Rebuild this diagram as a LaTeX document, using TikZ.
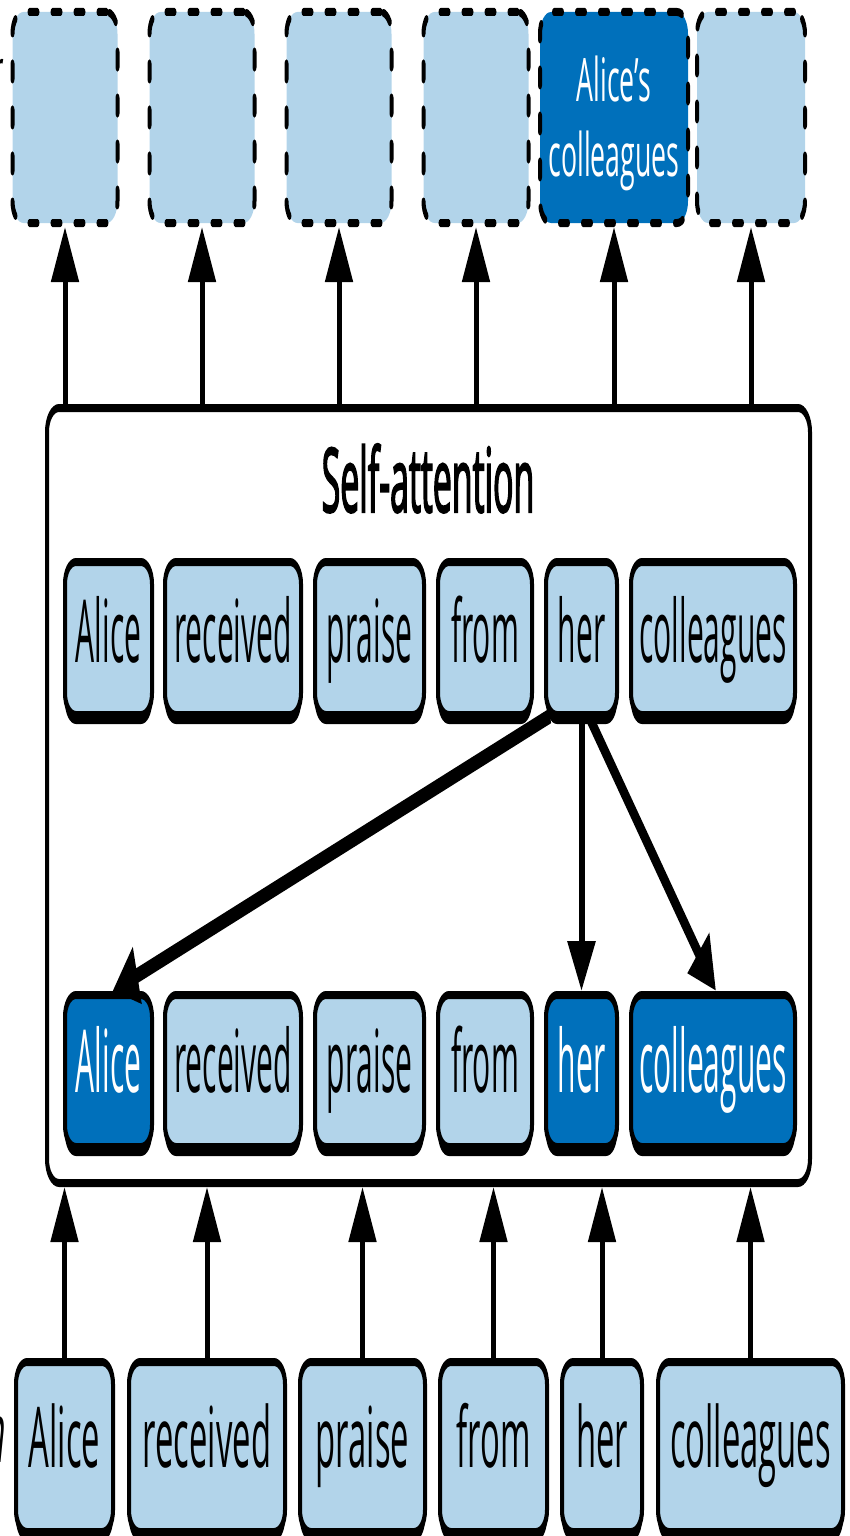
\documentclass[tikz,border=0pt]{standalone}
\usepackage{fontspec}
\setmainfont{Open Sans}
% condensed faces for the three token rows, the heading and the side labels
\newfontfamily\inputfont[FakeStretch=0.78]{Open Sans}
\newfontfamily\attnfont[FakeStretch=0.69]{Open Sans}
\newfontfamily\outfont[FakeStretch=0.89]{Open Sans}
\newfontfamily\headfont[FakeStretch=0.76,FakeBold=2.5]{Open Sans}
\newfontfamily\sidefont[FakeStretch=0.78,FakeSlant=0.2]{Open Sans}
\usetikzlibrary{arrows.meta,calc,shadows}

\definecolor{tokenblue}{RGB}{178,212,234}
\definecolor{focusblue}{RGB}{0,112,187}

\begin{document}
\begin{tikzpicture}
\useasboundingbox (0pt,0pt) rectangle (849pt,-1536pt);
% everything is laid out on a canvas squeezed to half its width
\begin{scope}[transform canvas={xscale=0.5}, x=2pt, y=-1pt,
  tokbox/.style={draw=black, line width=8pt, rounded corners=22pt, inner sep=0pt,
    fill=tokenblue,
    drop shadow={shadow xshift=0pt, shadow yshift=-9pt, opacity=1, fill=black}},
  focus/.style={fill=focusblue, text=white},
  inrow/.style={tokbox, minimum height=170pt, text height=62pt, text depth=22pt,
    font=\inputfont\fontsize{84pt}{90pt}\selectfont},
  attrow/.style={tokbox, minimum height=153pt, text height=65pt, text depth=18pt,
    font=\attnfont\fontsize{87pt}{90pt}\selectfont},
  outbox/.style={fill=tokenblue, draw=black, line width=8pt,
    dash pattern=on 16pt off 30pt, line cap=round, rounded corners=22pt,
    inner sep=0pt, minimum height=211pt},
  layerbox/.style={draw=black, line width=8pt, rounded corners=24pt, fill=white,
    inner sep=0pt},
  headtext/.style={inner sep=0pt, font=\headfont\fontsize{89pt}{90pt}\selectfont},
  sidetext/.style={inner sep=0pt},
  conn/.style={line width=10pt, -{Triangle[length=55pt,width=54pt]}},
  attn/.style={-{Triangle[length=52pt,width=56pt]}}
]

% self-attention layer
\node[layerbox, minimum width=1526pt, minimum height=775pt] (sa) at (428.5,795.5) {};
\node[headtext, anchor=base] (title) at (428,512) {Self-attention};

% output row (dashed)
\node[outbox, minimum width=210pt] (t1) at (65,117.5) {};
\node[outbox, minimum width=210pt] (t2) at (202,117.5) {};
\node[outbox, minimum width=210pt] (t3) at (339,117.5) {};
\node[outbox, minimum width=210pt] (t4) at (476,117.5) {};
\node[outbox, focus, minimum width=296pt, align=center,
  font=\outfont\fontsize{60pt}{75pt}\selectfont] (t5) at (614,117.5)
  {\rule{0pt}{58pt}Alice’s\\colleagues};
\node[outbox, minimum width=216pt] (t6) at (751,117.5) {};

% query row inside the layer
\node[attrow, minimum width=174pt] (m1) at (108.5,638.5) {Alice};
\node[attrow, minimum width=272pt] (m2) at (233,638.5) {received};
\node[attrow, minimum width=218pt] (m3) at (369.5,638.5) {praise};
\node[attrow, minimum width=188pt] (m4) at (485,638.5) {from};
\node[attrow, minimum width=142pt] (m5) at (581.5,638.5) {her};
\node[attrow, minimum width=328pt] (m6) at (713,638.5) {colleagues};

% key row inside the layer
\node[attrow, focus, minimum width=174pt, minimum height=152pt, text height=62pt, text depth=20pt] (b1) at (108.5,1071) {Alice};
\node[attrow, minimum width=272pt, minimum height=152pt, text height=62pt, text depth=20pt] (b2) at (233,1071) {received};
\node[attrow, minimum width=218pt, minimum height=152pt, text height=62pt, text depth=20pt] (b3) at (369.5,1071) {praise};
\node[attrow, minimum width=188pt, minimum height=152pt, text height=62pt, text depth=20pt] (b4) at (485,1071) {from};
\node[attrow, focus, minimum width=142pt, minimum height=152pt, text height=62pt, text depth=20pt] (b5) at (581.5,1071) {her};
\node[attrow, focus, minimum width=328pt, minimum height=152pt, text height=62pt, text depth=20pt] (b6) at (713,1071) {colleagues};

% input row
\node[inrow, minimum width=194pt] (i1) at (64.5,1447) {Alice};
\node[inrow, minimum width=312pt] (i2) at (207,1447) {received};
\node[inrow, minimum width=250pt] (i3) at (362.5,1447) {praise};
\node[inrow, minimum width=214pt] (i4) at (493.5,1447) {from};
\node[inrow, minimum width=160pt] (i5) at (602,1447) {her};
\node[inrow, minimum width=370pt] (i6) at (750.5,1447) {colleagues};

% side labels running off the left edge
\node[sidetext, anchor=base east, font=\sidefont\fontsize{59pt}{70pt}\selectfont] (outlabel) at (1,92) {r};
\node[sidetext, anchor=base east, font=\sidefont\fontsize{84pt}{90pt}\selectfont] (inlabel) at (4,1462) {n};

% layer in and out
\foreach \n in {1,...,6} {
  \draw[conn] (t\n |- sa.north) -- (t\n.south);
  \draw[conn] (i\n.north) -- (i\n |- sa.south);
}

% attention from "her"
\draw[attn, line width=15pt] ($(m5.south west)+(6,-3)$) -- ($(b1.north)+(4,0)$);
\draw[attn, line width=12pt, -{Triangle[length=50pt,width=54pt]}] (m5.south) -- (b5.north);
\draw[attn, line width=14pt] ($(m5.south)+(8.5,0)$) -- ($(b6.north)+(3,0)$);
\end{scope}
\end{tikzpicture}
\end{document}
